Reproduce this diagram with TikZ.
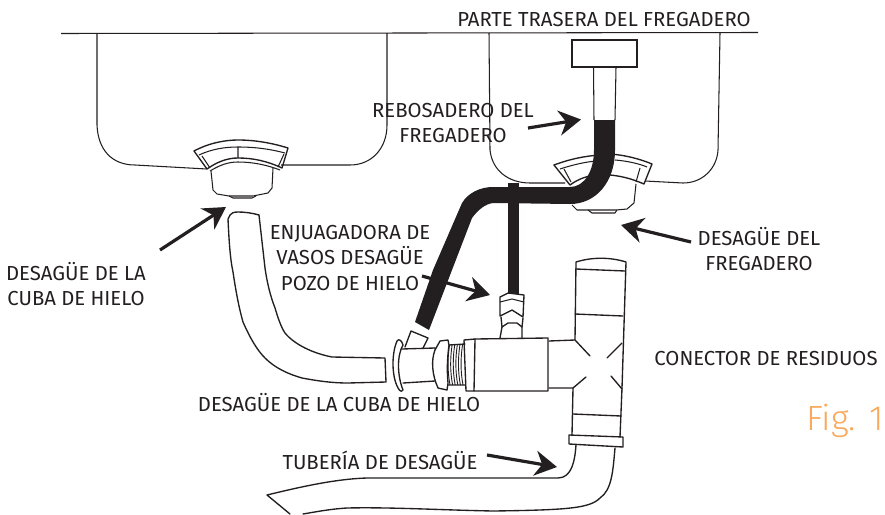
\documentclass[tikz,border=0pt]{standalone}
\usepackage{fontspec}
\setmainfont{Fira Sans}
\newfontfamily\figfont{Fira Sans Light}
\usetikzlibrary{arrows.meta}
\definecolor{ink}{HTML}{231F20}
\definecolor{figc}{HTML}{F9A95C}
\tikzset{
 lbl/.style={text=ink,font=\fontsize{20.3}{25.5}\selectfont,align=center,inner sep=0pt},
 ln/.style={draw=ink,line width=1.35pt,line join=round,line cap=round},
 thin ln/.style={draw=ink,line width=1.05pt,line join=round},
 hose/.style={draw=ink,line cap=butt,line join=round},
 pointer/.style={draw=ink,line width=3.2pt,-{Stealth[length=22pt,width=25pt,inset=7pt]}}
}
\begin{document}
\begin{tikzpicture}[x=1pt,y=-1pt]
\useasboundingbox (0,0) rectangle (885,514);
\fill[white] (0,0) rectangle (885,514);
% counter
\draw[thin ln] (61,33.5) -- (758,32.5);
% left sink
\draw[thin ln] (97,33) -- (97,125) .. controls (98,150) and (112,165) .. (135,165) -- (207,169);
\draw[thin ln] (281,165) -- (350,165) .. controls (372,165) and (387,148) .. (387,125) -- (387,33);
% right sink
\draw[thin ln] (489,33) -- (490,150) .. controls (492,170) and (508,183) .. (530,183) -- (565,183);
\draw[thin ln] (645,181) -- (683,183) .. controls (703,183) and (717,168) .. (718,150) -- (720,33);
% left drain
\draw[ln] (194,151) .. controls (209,143) and (225,140) .. (238,140) .. controls (255,140) and (272,143) .. (288,148)
  -- (282,168) .. controls (267,161) and (253,158) .. (238,158) .. controls (227,158) and (217,162) .. (207,169) -- cycle;
\draw[thin ln] (199,155) .. controls (212,149) and (225,147) .. (238,147) .. controls (255,147) and (270,149) .. (285,153);
\draw[thin ln] (210,171) .. controls (220,165) and (228,162) .. (238,162) .. controls (253,162) and (267,165) .. (280,170);
\draw[thin ln] (238,147) -- (238,158) (202,156) -- (210,168) (284,154) -- (278,167);
\draw[thin ln] (211,171) -- (213,190) -- (217,194) -- (229,196) -- (253,196) -- (268,193) -- (272,188) -- (273,168);
\draw[thin ln] (229,196) -- (233,198) -- (252,198) -- (256,196);
% right drain
\draw[ln] (554,165) .. controls (570,159) and (585,156) .. (600,155) (610,154) .. controls (625,155) and (640,159) .. (652,164)
  -- (644,184) .. controls (630,178) and (620,176) .. (610,175);
\draw[ln] (554,165) -- (570,185) .. controls (578,179) and (587,176) .. (596,175);
\draw[thin ln] (560,169) .. controls (572,165) and (585,162) .. (596,161) (615,160) .. controls (628,161) and (640,164) .. (647,167);
\draw[thin ln] (564,169) -- (571,182) (640,168) -- (636,182);
\draw[thin ln] (636,184) -- (634,203) -- (627,209) -- (616,210) -- (588,210) -- (577,210) -- (572,205);
\draw[thin ln] (588,210) -- (592,213) -- (615,213) -- (617,210);
% overflow
\node[draw=ink,line width=1.05pt,minimum width=65pt,minimum height=27pt,inner sep=0pt] (overflowcap) at (604.5,53.5) {};
\draw[thin ln] (593.5,67) -- (594,120) (616,67) -- (615,120);
\draw[ink,line width=1.8pt] (593.5,67) -- (616,67);
% ice-bin hose (thin black)
\draw[hose,line width=10.5pt] (513.5,183) -- (513.5,294);
% black hose
\fill[ink] (594,120) -- (615,120) -- (615,150)
   .. controls (615,182) and (596,204) .. (570,204) -- (493,203)
   .. controls (485,204) and (478,210) .. (472,218) -- (452,270) -- (429,330) -- (415,322) -- (433,270) -- (462,203)
   .. controls (468,193) and (480,187) .. (493,187) -- (570,187) .. controls (585,187) and (594,170) .. (594,150) -- cycle;
% left hose
\draw[ln] (259,215) .. controls (252,213) and (245,212) .. (238,212) .. controls (234,212) and (231,213) .. (230,215) -- (228,219)
   .. controls (229,240) and (230,258) .. (233,272) .. controls (236,292) and (239,308) .. (243,322)
   .. controls (250,338) and (257,350) .. (265,358) .. controls (275,368) and (288,374) .. (302,378)
   .. controls (318,381) and (332,383) .. (348,383) -- (386,382) -- (385,358) -- (332,357)
   .. controls (322,355) and (313,352) .. (305,348) .. controls (297,344) and (290,339) .. (285,333)
   .. controls (281,327) and (278,318) .. (275,308) .. controls (270,295) and (267,282) .. (265,268) -- cycle;
% air gap fitting
\draw[ln] (397,341) .. controls (392,352) and (391,375) .. (398,388) .. controls (400,392) and (403,392) .. (403,390)
   .. controls (397,375) and (397,355) .. (403,345) .. controls (402,341) and (399,338) .. (397,341) -- cycle;
\draw[ln] (402,349) -- (435,348) (403,383) -- (435,381);
\draw[ln] (405,347) -- (411,331) -- (428,338) -- (423,348);
\draw[ln] (435,348) -- (435,350) -- (440,341) -- (448,340) -- (449,345) .. controls (447,360) and (447,372) .. (448,383) -- (447,390) -- (438,388) .. controls (432,375) and (431,360) .. (435,350);
\foreach \i in {0,...,5}{\draw[draw=ink,line width=.9pt] ({449.5+2.6*\i},345) .. controls ({447.5+2.6*\i},358) and ({447.5+2.6*\i},372) .. ({450+2.6*\i},385);}
\draw[ln] (449,345) -- (465,344) (448,385) -- (465,385);
\draw[ln] (464,340) -- (475,339) -- (474,391) -- (466,391) -- cycle;
\draw[ln] (475,339) -- (548,338) -- (548,391) -- (474,391);
% stub on tee
\draw[ln] (500,338) -- (502,327) -- (508,323) -- (517,323) -- (522,327) -- (522,338);
\draw[ln] (501,317) -- (502,327) (523,318) -- (522,327);
\draw[ln] (500,297) -- (508,293) -- (524,295) -- (523,317) -- (512,310) -- (500,316) -- cycle;
\draw[thin ln] (500,302) -- (512,299) -- (524,302);
% waste tee
\draw[ln] (549,341) -- (575,340) -- (576,262) .. controls (592,257) and (610,257) .. (626,262) -- (622,388) -- (620,437);
\draw[ln] (576,269) -- (625,271) (575,314) -- (623,316);
\draw[ln] (549,388) -- (573,388) -- (572,435);
\draw[ln] (575,340) -- (590,356) (622,343) -- (607,358) (573,388) -- (586,377) (622,389) -- (611,376);
\draw[ln] (573,414) -- (621,416);
\draw[ln] (569,435) -- (623,437) -- (623,447) -- (569,444) -- cycle;
% tailpipe
\draw[ln] (576,445) .. controls (575,460) and (572,478) .. (558,478) -- (367,478) .. controls (335,479) and (300,487) .. (267,495) -- (290,514);
\draw[ln] (615,448) .. controls (613,470) and (612,490) .. (600,498) .. controls (590,508) and (570,510) .. (493,511)
   .. controls (440,510) and (390,507) .. (347,508) .. controls (330,509) and (315,512) .. (303,514);
% pointers
\coordinate (a1s) at (528,128); \coordinate (a1t) at (581,119.5);
\coordinate (a2s) at (160,250); \coordinate (a2t) at (226,207);
\coordinate (a3s) at (422,276); \coordinate (a3t) at (490,295);
\coordinate (a4s) at (691,242); \coordinate (a4t) at (621,225);
\coordinate (a5s) at (487,455); \coordinate (a5t) at (557,467);
\draw[pointer] (a1s) -- (a1t);
\draw[pointer] (a2s) -- (a2t);
\draw[pointer] (a3s) -- (a3t);
\draw[pointer] (a4s) -- (a4t);
\draw[pointer] (a5s) -- (a5t);
% labels
\node[lbl] (t1) at (604,20) {PARTE TRASERA DEL FREGADERO};
\node[lbl] (t2) at (453,123) {REBOSADERO DEL\\FREGADERO};
\node[lbl] (t3) at (76,284) {DESAGÜE DE LA\\CUBA DE HIELO};
\node[lbl] (t4) at (350,258) {ENJUAGADORA DE\\VASOS DESAGÜE\\POZO DE HIELO};
\node[lbl] (t5) at (759,249) {DESAGÜE DEL\\FREGADERO};
\node[lbl] (t6) at (766,359) {CONECTOR DE RESIDUOS};
\node[lbl] (t7) at (339,403) {DESAGÜE DE LA CUBA DE HIELO};
\node[lbl] (t8) at (380,460) {TUBERÍA DE DESAGÜE};
\node[text=figc,inner sep=0pt,font=\figfont\fontsize{35}{40}\selectfont] (t9) at (845,421) {Fig. 1};
\end{tikzpicture}
\end{document}
